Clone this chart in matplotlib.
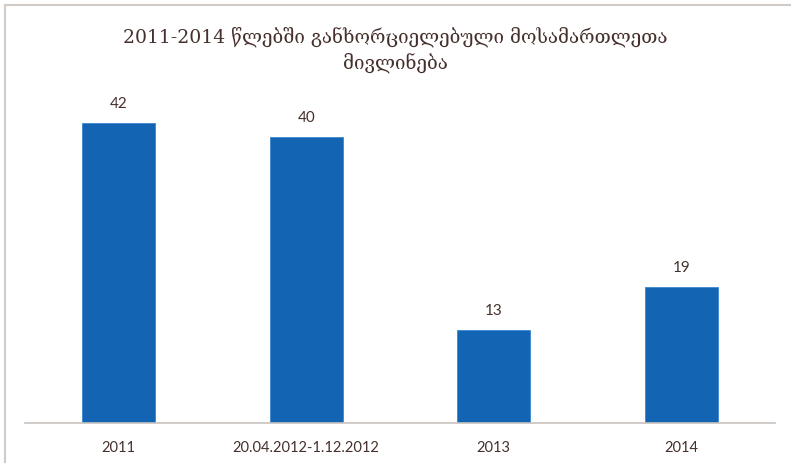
import matplotlib
matplotlib.use('Agg')
import matplotlib.pyplot as plt
import numpy as np

categories = ['2011', '20.04.2012-1.12.2012', '2013', '2014']
values = [42, 40, 13, 19]
title = '2011-2014 წლებში განხორციელებული მოსამართლეთა\nმივლინება'

bar_color = '#1464b4'
text_color = '#45302c'
frame_color = '#d2cac4'

fig = plt.figure(figsize=(7.91, 4.63), dpi=100)
ax = fig.add_axes([25/791, 1 - 423/463, 750/791, (423 - 95)/463])

x = np.arange(len(categories))
bars = ax.bar(x, values, width=0.39, color=bar_color, edgecolor='#3a86d0', linewidth=0.6)
ax.set_xlim(-0.5, len(categories) - 0.5)
ax.set_ylim(0, 328 / (300 / 42))

for b, v in zip(bars, values):
    ax.annotate(str(v), (b.get_x() + b.get_width() / 2, v), xytext=(0, 9),
                textcoords='offset points', ha='center', va='bottom',
                fontsize=11, color=text_color, family=['Lato', 'DejaVu Sans'])

ax.set_xticks(x)
ax.set_xticklabels(categories, fontsize=10.5, color=text_color, family=['Lato', 'DejaVu Sans'])
ax.tick_params(axis='x', length=0, pad=13)
ax.set_yticks([])
for s in ['top', 'right', 'left']:
    ax.spines[s].set_visible(False)
ax.spines['bottom'].set_color('#c8c2bc')
ax.spines['bottom'].set_linewidth(1.2)

fig.text(395/791, 1 - 50/463, title, ha='center', va='center', fontsize=13.5,
         color=text_color, linespacing=1.35, family=['DejaVu Serif', 'DejaVu Sans'])

# outer frame (top and left only, like the cropped screenshot)
fig.add_artist(plt.Line2D([5/791, 1], [1 - 5/463, 1 - 5/463], color=frame_color, lw=1.5))
fig.add_artist(plt.Line2D([5/791, 5/791], [0, 1 - 5/463], color=frame_color, lw=1.5))

fig.savefig('out.png', dpi=100)
